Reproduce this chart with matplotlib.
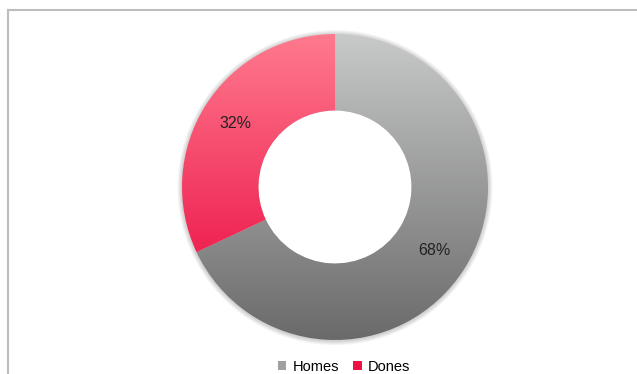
import numpy as np
import matplotlib.pyplot as plt
from matplotlib.patches import Patch, Circle
from matplotlib.lines import Line2D
from matplotlib.colors import LinearSegmentedColormap

labels = ['Homes', 'Dones']
shares = [68, 32]
# top and bottom colour of each slice's vertical gradient
grad_colors = [('#c8c9c9', '#6a6a6a'), ('#ff7a8e', '#e8003a')]
legend_colors = ['#a0a0a0', '#ee1144']

plt.rcParams['font.family'] = ['Liberation Sans Narrow', 'Liberation Sans', 'DejaVu Sans']

fig = plt.figure(figsize=(6.37, 3.74), dpi=100)
ax = fig.add_axes([0, 0, 1, 1])

# soft shadow round the ring
for i in range(6):
    r = 1.0 + 0.005 * (i + 1)
    ax.add_patch(Circle((0, -0.004), r, facecolor='#000000', alpha=0.03, edgecolor='none', zorder=0))
ax.add_patch(Circle((0, 0), 0.5, facecolor='white', edgecolor='none', zorder=0.5))

wedges, texts, autotexts = ax.pie(
    shares, startangle=90, counterclock=False, radius=1.0,
    autopct='%1.0f%%', pctdistance=0.77,
    wedgeprops=dict(width=0.5, edgecolor='none'),
    textprops=dict(fontsize=11.5, color='#222222'))

grad = np.linspace(0, 1, 256).reshape(-1, 1)
for w, (top, bottom) in zip(wedges, grad_colors):
    w.set_facecolor('none')
    cmap = LinearSegmentedColormap.from_list('g', [bottom, top])
    im = ax.imshow(grad, cmap=cmap, extent=[-1, 1, -1, 1], origin='lower',
                   aspect='auto', interpolation='bilinear', zorder=1)
    im.set_clip_path(w)

for t in autotexts:
    t.set_zorder(3)

ax.set_xlim(-335 / 153, (637 - 335) / 153)
ax.set_ylim(-187 / 153, 187 / 153)
ax.set_aspect('auto')
ax.axis('off')

# frame lines along top and left
fig.add_artist(Line2D([8 / 637, 1], [1 - 10 / 374, 1 - 10 / 374], color='#bdbdbd', linewidth=1.5))
fig.add_artist(Line2D([8 / 637, 8 / 637], [0, 1 - 10 / 374], color='#bdbdbd', linewidth=1.5))

handles = [Patch(facecolor=c, edgecolor='none', label=l) for c, l in zip(legend_colors, labels)]
fig.legend(handles=handles, loc='lower center', bbox_to_anchor=(0.54, -0.035), ncol=2,
           frameon=False, fontsize=10.5, handlelength=0.6, handleheight=0.6,
           handletextpad=0.4, columnspacing=1.0)

fig.savefig('out.png', dpi=100)
